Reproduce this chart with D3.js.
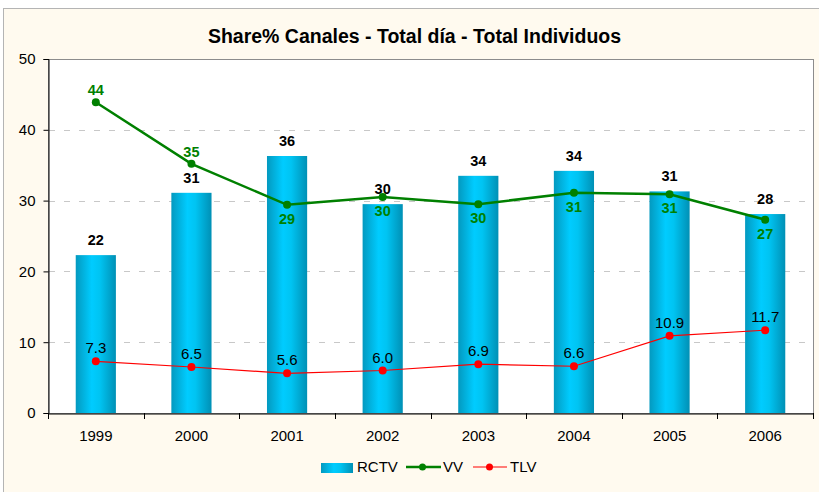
<!DOCTYPE html>
<html><head><meta charset="utf-8">
<script src="https://cdn.jsdelivr.net/npm/d3@7"></script>
<style>body{margin:0;background:#fff;}svg{display:block;font-family:"Liberation Sans",Arial,sans-serif;}</style>
</head><body>
<svg id="c" width="819" height="492"></svg>
<script>
const title = "Share% Canales - Total día - Total Individuos";
const years = ["1999","2000","2001","2002","2003","2004","2005","2006"];
const rctv = [22.3, 31.1, 36.3, 29.5, 33.5, 34.2, 31.3, 28.1];
const rctvLabels = ["22","31","36","30","34","34","31","28"];
const vv = [43.9, 35.2, 29.4, 30.5, 29.5, 31.1, 30.9, 27.3];
const vvLabels = ["44","35","29","30","30","31","31","27"];
const vvLabelAbove = [true, true, false, false, false, false, false, false];
const tlv = [7.3, 6.5, 5.6, 6.0, 6.9, 6.6, 10.9, 11.7];
const tlvLabels = ["7.3","6.5","5.6","6.0","6.9","6.6","10.9","11.7"];
const yTicks = [0,10,20,30,40,50];
const seriesNames = ["RCTV","VV","TLV"];

const FONT = "'Liberation Sans', Arial, sans-serif";
const svg = d3.select("#c");
const W = 819, H = 492;
const m = {left:48, right:813, top:59, bottom:413};

// chart background
svg.append("rect").attr("x",3.5).attr("y",8.5).attr("width",W+20).attr("height",H+20)
  .attr("fill","#FFFAEF").attr("stroke","#B4B4B4").attr("stroke-width",1);

const defs = svg.append("defs");
const g = defs.append("linearGradient").attr("id","barGrad").attr("x1","0").attr("x2","1").attr("y1","0").attr("y2","0");
g.append("stop").attr("offset","0%").attr("stop-color","#0399BF");
g.append("stop").attr("offset","40%").attr("stop-color","#00CCFF");
g.append("stop").attr("offset","60%").attr("stop-color","#00C4F2");
g.append("stop").attr("offset","100%").attr("stop-color","#0090B5");

const x = d3.scaleBand().domain(years).range([m.left, m.right]).paddingInner(0.58).paddingOuter(0.29);
const xb = d3.scaleBand().domain(years).range([m.left, m.right]);
const y = d3.scaleLinear().domain([0,50]).range([m.bottom, m.top]);

// plot area
svg.append("rect").attr("x",m.left+0.5).attr("y",m.top+0.5).attr("width",m.right-m.left).attr("height",m.bottom-m.top)
  .attr("fill","#fff").attr("stroke","#8C8C8C").attr("stroke-width",1);

// gridlines
svg.append("g").selectAll("line").data(yTicks.filter(d=>d>0 && d<50)).join("line")
  .attr("x1",m.left+1).attr("x2",m.right-7).attr("y1",d=>Math.round(y(d))+0.5).attr("y2",d=>Math.round(y(d))+0.5)
  .attr("stroke","#C8C8C8").attr("stroke-dasharray","6,9");

// bars
svg.append("g").selectAll("rect").data(rctv).join("rect")
  .attr("x",(d,i)=>x(years[i])).attr("width",x.bandwidth())
  .attr("y",d=>y(d)).attr("height",d=>y(0)-y(d)).attr("fill","url(#barGrad)");

// y axis
const ya = svg.append("g").attr("transform",`translate(${m.left+0.5},0)`)
  .call(d3.axisLeft(y).tickValues(yTicks).tickSize(5).tickPadding(8));
ya.select(".domain").attr("stroke","#000");
ya.selectAll("text").attr("font-size",15).attr("fill","#000").attr("font-family",FONT);

// x axis
const xa = svg.append("g").attr("transform",`translate(0,${m.bottom+0.5})`)
  .call(d3.axisBottom(xb).tickSize(0).tickPadding(17));
xa.select(".domain").attr("stroke","#000");
xa.selectAll("text").attr("font-size",15).attr("fill","#000").attr("font-family",FONT);
svg.append("g").selectAll("line").data(d3.range(years.length+1)).join("line")
  .attr("x1",i=>Math.round(m.left+i*xb.step())+0.5).attr("x2",i=>Math.round(m.left+i*xb.step())+0.5)
  .attr("y1",m.bottom).attr("y2",m.bottom+6).attr("stroke","#000");

const cx = i => xb(years[i]) + xb.bandwidth()/2;

// RCTV labels
svg.append("g").selectAll("text").data(rctvLabels).join("text")
  .attr("x",(d,i)=>cx(i)).attr("y",(d,i)=>y(rctv[i])-10)
  .attr("text-anchor","middle").attr("font-size",14.5).attr("font-weight","bold").attr("fill","#000").text(d=>d);

// VV line
const line = d3.line().x((d,i)=>cx(i)).y(d=>y(d));
svg.append("path").datum(vv).attr("d",line).attr("fill","none").attr("stroke","#008000").attr("stroke-width",2.5);
svg.append("g").selectAll("circle").data(vv).join("circle")
  .attr("cx",(d,i)=>cx(i)).attr("cy",d=>y(d)).attr("r",4).attr("fill","#008000");
svg.append("g").selectAll("text").data(vvLabels).join("text")
  .attr("x",(d,i)=>cx(i)).attr("y",(d,i)=>vvLabelAbove[i] ? y(vv[i])-7 : y(vv[i])+19)
  .attr("text-anchor","middle").attr("font-size",14.5).attr("font-weight","bold").attr("fill","#008000").text(d=>d);

// TLV line
svg.append("path").datum(tlv).attr("d",line).attr("fill","none").attr("stroke","#FF0000").attr("stroke-width",1.2);
svg.append("g").selectAll("circle").data(tlv).join("circle")
  .attr("cx",(d,i)=>cx(i)).attr("cy",d=>y(d)).attr("r",4).attr("fill","#FF0000");
svg.append("g").selectAll("text").data(tlvLabels).join("text")
  .attr("x",(d,i)=>cx(i)).attr("y",(d,i)=>y(tlv[i])-8)
  .attr("text-anchor","middle").attr("font-size",15).attr("fill","#000").text(d=>d);

// title
svg.append("text").attr("x",414.5).attr("y",43).attr("text-anchor","middle")
  .attr("font-size",19.5).attr("font-weight","bold").attr("fill","#000").text(title);

// legend
const lg = svg.append("g").attr("font-size",15).attr("fill","#000");
lg.append("rect").attr("x",321).attr("y",463).attr("width",32).attr("height",10).attr("fill","url(#barGrad)");
lg.append("text").attr("x",357).attr("y",472).text(seriesNames[0]);
lg.append("line").attr("x1",406).attr("x2",441).attr("y1",467).attr("y2",467).attr("stroke","#008000").attr("stroke-width",2.5);
lg.append("circle").attr("cx",422.5).attr("cy",467).attr("r",3.5).attr("fill","#008000");
lg.append("text").attr("x",443).attr("y",472).text(seriesNames[1]);
lg.append("line").attr("x1",473).attr("x2",507).attr("y1",467).attr("y2",467).attr("stroke","#FF0000").attr("stroke-width",1.2);
lg.append("circle").attr("cx",489.5).attr("cy",467).attr("r",3.5).attr("fill","#FF0000");
lg.append("text").attr("x",510).attr("y",472).text(seriesNames[2]);
</script>
</body></html>
